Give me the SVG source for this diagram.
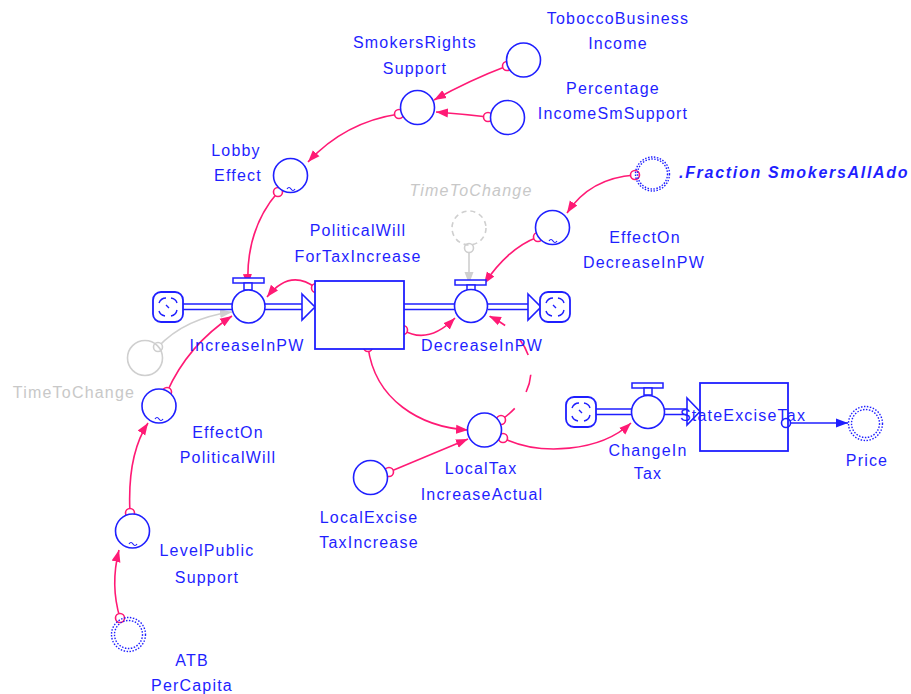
<svg xmlns="http://www.w3.org/2000/svg" width="911" height="694" viewBox="0 0 911 694">
<defs>
<style>
text{font-family:"Liberation Sans",Arial,sans-serif;font-size:16px;letter-spacing:1.2px;fill:#1f1fff;text-anchor:middle}
.gl{fill:#c8c8c8}
.aux{fill:#fff;stroke:#1f1fff;stroke-width:1.6}
.gaux{fill:none;stroke:#cfcfcf;stroke-width:1.6}
.ghost{fill:none;stroke:#cfcfcf;stroke-width:1.6;stroke-dasharray:5 4}
.dot{fill:none;stroke:#1f1fff;stroke-width:1.4;stroke-dasharray:1.5 1.5}
.stock{fill:#fff;stroke:#1f1fff;stroke-width:1.8}
.pipe{fill:none;stroke:#1f1fff;stroke-width:1.6}
.cloud{fill:#fff;stroke:#1f1fff;stroke-width:1.8}
.cin{fill:none;stroke:#1f1fff;stroke-width:1.4}
.c{fill:none;stroke:#ff1a75;stroke-width:1.6}
.cg{fill:none;stroke:#cfcfcf;stroke-width:1.6}
.cb{fill:none;stroke:#1f1fff;stroke-width:1.6}
.tail{fill:#fff;stroke:#ff1a75;stroke-width:1.6}
.tailg{fill:#fff;stroke:#cfcfcf;stroke-width:1.6}
.tailb{fill:#fff;stroke:#1f1fff;stroke-width:1.6}
.tl{fill:none;stroke:#1f1fff;stroke-width:1.2}
.bar{fill:#fff;stroke:#1f1fff;stroke-width:1.5}
</style>
<marker id="ap" viewBox="0 0 12 10" refX="12" refY="5" markerWidth="12" markerHeight="10" markerUnits="userSpaceOnUse" orient="auto"><path d="M0,0.5 L12,5 L0,9.5 z" fill="#ff1a75"/></marker>
<marker id="ag" viewBox="0 0 12 10" refX="12" refY="5" markerWidth="12" markerHeight="10" markerUnits="userSpaceOnUse" orient="auto"><path d="M0,0.5 L12,5 L0,9.5 z" fill="#cfcfcf"/></marker>
<marker id="ab" viewBox="0 0 12 10" refX="12" refY="5" markerWidth="12" markerHeight="10" markerUnits="userSpaceOnUse" orient="auto"><path d="M0,0.5 L12,5 L0,9.5 z" fill="#1f1fff"/></marker>
<g id="cloudshape">
<rect x="-15" y="-15" width="30" height="30" rx="8" class="cloud"/>
<path class="cin" d="M-9,-4 q2,-5 7,-5 M3,-9 q5,1 6,5 M9,3 q-1,5 -6,6 M-3,9 q-5,-1 -6,-5 M-2,-2 l3,3"/>
</g>
</defs>

<!-- connectors -->
<g id="connectors">
<path class="c" d="M507,66 Q470,80 434,100" marker-end="url(#ap)"/>
<path class="c" d="M488,117 Q462,114 436,112" marker-end="url(#ap)"/>
<path class="c" d="M399,114 Q345,122 308,162" marker-end="url(#ap)"/>
<path class="c" d="M278,192 C258,215 246,245 248,286" marker-end="url(#ap)"/>
<path class="c" d="M316,288 Q290,268 267,297" marker-end="url(#ap)"/>
<path class="c" d="M403,330 Q428,345 455,318" marker-end="url(#ap)"/>
<path class="c" d="M635,175 Q590,178 567,213" marker-end="url(#ap)"/>
<path class="c" d="M538,237 Q508,248 484,284" marker-end="url(#ap)"/>
<path class="cg" d="M469,248 L469,284" marker-end="url(#ag)"/>
<path class="cg" d="M158,347 Q185,318 232,312" marker-end="url(#ag)"/>
<path class="c" d="M167,392 Q188,345 232,316" marker-end="url(#ap)"/>
<path class="c" d="M130,513 Q127,455 148,423" marker-end="url(#ap)"/>
<path class="c" d="M120,618 Q110,585 119,550" marker-end="url(#ap)"/>
<path class="c" d="M368,347 C375,400 420,427 468,430" marker-end="url(#ap)"/>
<path class="c" d="M389,472 L468,439" marker-end="url(#ap)"/>
<path class="c" d="M501,420 C545,390 540,340 489,316" stroke-dasharray="18 20" marker-end="url(#ap)"/>
<path class="c" d="M503,438 C540,456 600,452 631,423" marker-end="url(#ap)"/>
<path class="cb" d="M786,423 L848,423" marker-end="url(#ab)"/>
<circle class="tail" cx="507" cy="66" r="4.5"/>
<circle class="tail" cx="488" cy="117" r="4.5"/>
<circle class="tail" cx="399" cy="114" r="4.5"/>
<circle class="tail" cx="278" cy="192" r="4.5"/>
<circle class="tail" cx="316" cy="288" r="4.5"/>
<circle class="tail" cx="403" cy="330" r="4.5"/>
<circle class="tail" cx="635" cy="175" r="4.5"/>
<circle class="tail" cx="538" cy="237" r="4.5"/>
<circle class="tailg" cx="469" cy="248" r="4.5"/>
<circle class="tailg" cx="158" cy="347" r="4.5"/>
<circle class="tail" cx="167" cy="392" r="4.5"/>
<circle class="tail" cx="130" cy="513" r="4.5"/>
<circle class="tail" cx="120" cy="618" r="4.5"/>
<circle class="tail" cx="368" cy="347" r="4.5"/>
<circle class="tail" cx="389" cy="472" r="4.5"/>
<circle class="tail" cx="501" cy="420" r="4.5"/>
<circle class="tail" cx="503" cy="438" r="4.5"/>
<circle class="tailb" cx="786" cy="423" r="4.5"/>
</g>

<!-- flows -->
<g id="flow-increase">
<use href="#cloudshape" x="168" y="307"/>
<path class="pipe" d="M183,304 H232 M183,309.5 H232 M265,304 H302 M265,309.5 H302"/>
<path class="pipe" fill="#fff" d="M302,294 L315,307 L302,320 Z"/>
</g>
<g id="IncreaseInPW">
<rect class="bar" x="233" y="278" width="31" height="5"/>
<rect class="bar" x="244" y="283" width="8" height="7"/>
<circle class="aux" cx="248.5" cy="306.5" r="16.5"/>
<text x="247" y="351">IncreaseInPW</text>
</g>
<g id="flow-decrease">
<path class="pipe" d="M404,304 H455 M404,309.5 H455 M488,304 H528 M488,309.5 H528"/>
<path class="pipe" fill="#fff" d="M528,294 L541,307 L528,320 Z"/>
<use href="#cloudshape" x="555" y="307"/>
</g>
<g id="DecreaseInPW">
<rect class="bar" x="455" y="280" width="31" height="5"/>
<rect class="bar" x="467" y="285" width="8" height="5"/>
<circle class="aux" cx="471" cy="306" r="16.5"/>
<text x="482" y="351">DecreaseInPW</text>
</g>
<g id="PoliticalWillForTaxIncrease">
<rect class="stock" x="315" y="281" width="89" height="68"/>
<text x="358" y="236">PoliticalWill</text>
<text x="358" y="262">ForTaxIncrease</text>
</g>

<g id="flow-changein">
<use href="#cloudshape" x="581" y="412"/>
<path class="pipe" d="M596,409 H632 M596,414.5 H632 M665,409 H687 M665,414.5 H687"/>
<path class="pipe" fill="#fff" d="M687,398 L700,411.5 L687,425 Z"/>
</g>
<g id="ChangeInTax">
<rect class="bar" x="632" y="383" width="31" height="5"/>
<rect class="bar" x="644" y="388" width="8" height="7"/>
<circle class="aux" cx="648" cy="412" r="16.5"/>
<text x="648" y="456">ChangeIn</text>
<text x="648" y="479">Tax</text>
</g>
<g id="StateExciseTax">
<rect class="stock" x="700" y="383" width="88" height="68" style="fill:none"/>
<text x="743" y="421">StateExciseTax</text>
</g>
<g id="Price">
<circle class="dot" cx="865.5" cy="423.5" r="17"/>
<circle class="dot" cx="865.5" cy="423.5" r="14"/>
<text x="867" y="466">Price</text>
</g>

<!-- auxiliaries -->
<g id="SmokersRightsSupport">
<circle class="aux" cx="417.5" cy="107.5" r="17"/>
<text x="415" y="48">SmokersRights</text>
<text x="415" y="74">Support</text>
</g>
<g id="ToboccoBusinessIncome">
<circle class="aux" cx="523.5" cy="60" r="17"/>
<text x="618" y="24">ToboccoBusiness</text>
<text x="618" y="49">Income</text>
</g>
<g id="PercentageIncomeSmSupport">
<circle class="aux" cx="507.5" cy="117.5" r="17"/>
<text x="613" y="94">Percentage</text>
<text x="613" y="119">IncomeSmSupport</text>
</g>
<g id="LobbyEffect">
<circle class="aux" cx="290.5" cy="175.5" r="17"/>
<path class="tl" d="M287,189 q2,-3 4,0 t4,0"/>
<text x="236" y="156">Lobby</text>
<text x="238" y="181">Effect</text>
</g>
<g id="FractionSmokersAllAdo">
<circle class="dot" cx="652.5" cy="174" r="17"/>
<circle class="dot" cx="652.5" cy="174" r="15"/>
<text x="679" y="178" style="text-anchor:start;font-style:italic;font-weight:bold;letter-spacing:1.7px">.Fraction SmokersAllAdo</text>
</g>
<g id="EffectOnDecreaseInPW">
<circle class="aux" cx="552.5" cy="227.5" r="17"/>
<path class="tl" d="M549,241 q2,-3 4,0 t4,0"/>
<text x="645" y="243">EffectOn</text>
<text x="644" y="268">DecreaseInPW</text>
</g>
<g id="TimeToChange-top">
<circle class="ghost" cx="469" cy="228" r="17"/>
<text class="gl" x="471" y="196" style="font-style:italic">TimeToChange</text>
</g>
<g id="TimeToChange-left">
<circle class="gaux" cx="145" cy="358" r="17.5"/>
<text class="gl" x="74" y="398">TimeToChange</text>
</g>
<g id="EffectOnPoliticalWill">
<circle class="aux" cx="159" cy="406" r="17"/>
<path class="tl" d="M155,419 q2,-3 4,0 t4,0"/>
<text x="228" y="438">EffectOn</text>
<text x="228" y="463">PoliticalWill</text>
</g>
<g id="LevelPublicSupport">
<circle class="aux" cx="132.5" cy="531" r="17"/>
<path class="tl" d="M129,544 q2,-3 4,0 t4,0"/>
<text x="207" y="556">LevelPublic</text>
<text x="207" y="583">Support</text>
</g>
<g id="ATBPerCapita">
<circle class="dot" cx="128.5" cy="634.5" r="17"/>
<circle class="dot" cx="128.5" cy="634.5" r="14"/>
<text x="192" y="666">ATB</text>
<text x="192" y="691">PerCapita</text>
</g>
<g id="LocalTaxIncreaseActual">
<circle class="aux" cx="484.5" cy="430" r="17"/>
<text x="481" y="474">LocalTax</text>
<text x="482" y="500">IncreaseActual</text>
</g>
<g id="LocalExciseTaxIncrease">
<circle class="aux" cx="370.5" cy="477.5" r="17"/>
<text x="369" y="523">LocalExcise</text>
<text x="369" y="548">TaxIncrease</text>
</g>
</svg>
